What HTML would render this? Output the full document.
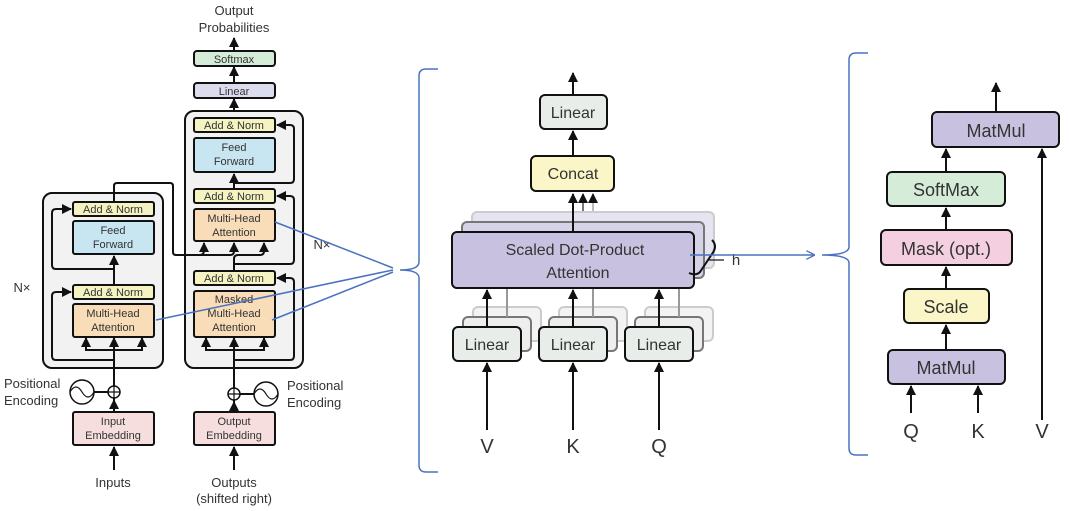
<!DOCTYPE html>
<html><head><meta charset="utf-8"><style>
html,body{margin:0;padding:0;background:#fff;width:1069px;height:511px;overflow:hidden}
svg{display:block}
text{font-family:"Liberation Sans",sans-serif;fill:#333;text-anchor:middle}
.b{stroke:#111;stroke-width:2}
.s{fill:none;stroke:#111;stroke-width:2}
.t{font-size:11px}
.bl{fill:none;stroke:#4a72c0;stroke-width:1.5}
</style></head><body>
<svg width="1069" height="511" viewBox="0 0 1069 511">
<defs>
<marker id="a" viewBox="0 0 10 10" refX="9" refY="5" markerWidth="5" markerHeight="5" orient="auto"><path d="M0,0L10,5L0,10z" fill="#111"/></marker>
<marker id="ab" viewBox="0 0 10 10" refX="9" refY="5" markerWidth="6" markerHeight="6" orient="auto"><path d="M0,0L10,5L0,10" fill="none" stroke="#4a72c0" stroke-width="1.5"/></marker>
</defs>
<!-- LEFT: Transformer -->
<text x="234" y="15" font-size="13">Output</text>
<text x="234" y="32" font-size="13">Probabilities</text>
<line class="s" x1="234" y1="51" x2="234" y2="38" marker-end="url(#a)"/>
<rect class="b" x="194" y="51" width="81" height="15" rx="3" fill="#d4ecd8"/>
<text class="t" x="234" y="63">Softmax</text>
<line class="s" x1="234" y1="83" x2="234" y2="67" marker-end="url(#a)"/>
<rect class="b" x="194" y="83" width="81" height="15" rx="3" fill="#dcdcef"/>
<text class="t" x="234" y="95">Linear</text>
<line class="s" x1="234" y1="118" x2="234" y2="99" marker-end="url(#a)"/>
<!-- encoder -->
<rect x="43" y="193" width="120" height="175" rx="9" fill="#f2f2f2" stroke="#111" stroke-width="2"/>
<!-- decoder -->
<rect x="185" y="111" width="118" height="257" rx="9" fill="#f2f2f2" stroke="#111" stroke-width="2"/>
<!-- encoder internals -->
<path class="s" d="M114,405 V304"/>
<path class="s" d="M114,360 H56 Q52,360 52,356 V296 Q52,292 56,292 H71" marker-end="url(#a)"/>
<path class="s" d="M114,269 H56 Q52,269 52,265 V213 Q52,209 56,209 H71" marker-end="url(#a)"/>
<path class="s" d="M86,339 V350 H142 V339"/>
<line class="s" x1="86" y1="350" x2="86" y2="338" marker-end="url(#a)"/>
<line class="s" x1="142" y1="350" x2="142" y2="338" marker-end="url(#a)"/>
<line class="s" x1="114" y1="350" x2="114" y2="338" marker-end="url(#a)"/>
<line class="s" x1="114" y1="285" x2="114" y2="256" marker-end="url(#a)"/>
<path class="s" d="M114,202 V186 Q114,183 117,183 H170 Q173,183 173,186 V252 Q173,255 176,255 H200 Q204,255 204,250 V243" marker-end="url(#a)"/>
<rect class="b" x="73" y="202" width="81" height="14" rx="2" fill="#f4f3c1"/>
<text class="t" x="113" y="213">Add &amp; Norm</text>
<rect class="b" x="73" y="221" width="81" height="33" rx="2" fill="#c8e6f2"/>
<text class="t" x="113" y="234">Feed</text><text class="t" x="113" y="248">Forward</text>
<rect class="b" x="73" y="285" width="81" height="14" rx="2" fill="#f4f3c1"/>
<text class="t" x="113" y="296">Add &amp; Norm</text>
<rect class="b" x="73" y="304" width="81" height="33" rx="2" fill="#f9ddb8"/>
<text class="t" x="113" y="317">Multi-Head</text><text class="t" x="113" y="331">Attention</text>
<!-- decoder internals -->
<path class="s" d="M234,405 V291"/>
<path class="s" d="M234,360 H290 Q294,360 294,356 V282 Q294,278 290,278 H277" marker-end="url(#a)"/>
<path class="s" d="M234,264 H290 Q294,264 294,260 V200 Q294,196 290,196 H277" marker-end="url(#a)"/>
<path class="s" d="M234,183 H290 Q294,183 294,179 V129 Q294,125 290,125 H277" marker-end="url(#a)"/>
<path class="s" d="M206,339 V350 H264 V339"/>
<line class="s" x1="206" y1="350" x2="206" y2="338" marker-end="url(#a)"/>
<line class="s" x1="264" y1="350" x2="264" y2="338" marker-end="url(#a)"/>
<line class="s" x1="234" y1="350" x2="234" y2="338" marker-end="url(#a)"/>
<path class="s" d="M234,271 V259 Q234,255 238,255 H260 Q264,255 264,251 V243" marker-end="url(#a)"/>
<path class="s" d="M200,255 H230 Q234,255 234,251 V243" marker-end="url(#a)"/>
<line class="s" x1="234" y1="189" x2="234" y2="174" marker-end="url(#a)"/>
<rect class="b" x="194" y="118" width="81" height="14" rx="2" fill="#f4f3c1"/>
<text class="t" x="234" y="129">Add &amp; Norm</text>
<rect class="b" x="194" y="138" width="81" height="34" rx="2" fill="#c8e6f2"/>
<text class="t" x="234" y="151">Feed</text><text class="t" x="234" y="165">Forward</text>
<rect class="b" x="194" y="189" width="81" height="14" rx="2" fill="#f4f3c1"/>
<text class="t" x="234" y="200">Add &amp; Norm</text>
<rect class="b" x="194" y="209" width="81" height="32" rx="2" fill="#f9ddb8"/>
<text class="t" x="234" y="222">Multi-Head</text><text class="t" x="234" y="236">Attention</text>
<rect class="b" x="194" y="271" width="81" height="14" rx="2" fill="#f4f3c1"/>
<text class="t" x="234" y="282">Add &amp; Norm</text>
<rect class="b" x="194" y="291" width="81" height="46" rx="2" fill="#f9ddb8"/>
<text class="t" x="234" y="303">Masked</text><text class="t" x="234" y="317">Multi-Head</text><text class="t" x="234" y="331">Attention</text>
<!-- embeddings -->
<rect class="b" x="73" y="412" width="81" height="33" rx="2" fill="#f6dede"/>
<text class="t" x="113" y="425">Input</text><text class="t" x="113" y="439">Embedding</text>
<rect class="b" x="194" y="412" width="81" height="33" rx="2" fill="#f6dede"/>
<text class="t" x="234" y="425">Output</text><text class="t" x="234" y="439">Embedding</text>
<line class="s" x1="114" y1="470" x2="114" y2="447" marker-end="url(#a)"/>
<line class="s" x1="234" y1="470" x2="234" y2="447" marker-end="url(#a)"/>
<line class="s" x1="114" y1="412" x2="114" y2="400" marker-end="url(#a)"/>
<line class="s" x1="234" y1="412" x2="234" y2="402" marker-end="url(#a)"/>
<circle cx="114" cy="392" r="6" fill="#fff" stroke="#111" stroke-width="1.5"/>
<path d="M108,392H120M114,386V398" stroke="#111" stroke-width="1.2"/>
<circle cx="82" cy="392" r="12" fill="#fff" stroke="#111" stroke-width="1.5"/>
<path d="M70,392 q6,-10 12,0 t12,0" fill="none" stroke="#111" stroke-width="1.2"/>
<line class="s" x1="94" y1="392" x2="108" y2="392"/>
<circle cx="234" cy="394" r="6" fill="#fff" stroke="#111" stroke-width="1.5"/>
<path d="M228,394H240M234,388V400" stroke="#111" stroke-width="1.2"/>
<circle cx="266" cy="394" r="12" fill="#fff" stroke="#111" stroke-width="1.5"/>
<path d="M254,394 q6,-10 12,0 t12,0" fill="none" stroke="#111" stroke-width="1.2"/>
<line class="s" x1="240" y1="394" x2="254" y2="394"/>
<text x="4" y="388" font-size="13" style="text-anchor:start">Positional</text>
<text x="4" y="405" font-size="13" style="text-anchor:start">Encoding</text>
<text x="287" y="390" font-size="13" style="text-anchor:start">Positional</text>
<text x="287" y="407" font-size="13" style="text-anchor:start">Encoding</text>
<text x="113" y="487" font-size="13">Inputs</text>
<text x="234" y="487" font-size="13">Outputs</text>
<text x="234" y="503" font-size="13">(shifted right)</text>
<text x="22" y="292" font-size="13">N×</text>
<text x="322" y="249" font-size="13">N×</text>
<!-- blue connectors -->
<line class="bl" x1="275" y1="222" x2="393" y2="268"/>
<line class="bl" x1="156" y1="320" x2="393" y2="270"/>
<line class="bl" x1="272" y1="320" x2="393" y2="272"/>
<path class="bl" d="M438,69 H426 Q419,69 419,76 V262 Q419,270 400,270 Q419,270 419,278 V465 Q419,472 426,472 H438"/>
<!-- MIDDLE -->
<line class="s" x1="573" y1="95" x2="573" y2="73" marker-end="url(#a)"/>
<rect class="b" x="540" y="95" width="67" height="34" rx="5" fill="#e8ede9"/>
<text x="573" y="118" font-size="16">Linear</text>
<line class="s" x1="573" y1="156" x2="573" y2="131" marker-end="url(#a)"/>
<rect class="b" x="531" y="156" width="83" height="35" rx="5" fill="#fbf6c8"/>
<text x="573" y="179" font-size="16">Concat</text>
<line x1="593" y1="212" x2="593" y2="194" stroke="#bbb" stroke-width="2" marker-end="url(#a)"/>
<line x1="583" y1="222" x2="583" y2="194" stroke="#777" stroke-width="2" marker-end="url(#a)"/>
<rect x="472" y="212" width="242" height="56" rx="5" fill="#e6e4f0" stroke="#ccc" stroke-width="2"/>
<rect x="462" y="222" width="242" height="56" rx="5" fill="#d6d2e8" stroke="#777" stroke-width="2"/>
<line class="s" x1="573" y1="232" x2="573" y2="194" marker-end="url(#a)"/>
<rect class="b" x="452" y="232" width="242" height="56" rx="5" fill="#c8c2e0"/>
<text x="575" y="255" font-size="16">Scaled Dot-Product</text>
<text x="578" y="278" font-size="16">Attention</text>
<path class="s" d="M712,240 Q718,246 712,254 L700,272 Q696,276 689,273"/>
<line x1="708" y1="260" x2="724" y2="260" stroke="#111" stroke-width="1.2"/>
<text x="736" y="265" font-size="15">h</text>
<line class="bl" x1="690" y1="255" x2="814" y2="255" marker-end="url(#ab)"/>
<!-- linears -->
<g>
<rect x="473" y="307" width="68" height="34" rx="5" fill="#f3f3f3" stroke="#ccc" stroke-width="2"/>
<rect x="463" y="317" width="68" height="34" rx="5" fill="#eee" stroke="#777" stroke-width="2"/>
<rect x="559" y="307" width="68" height="34" rx="5" fill="#f3f3f3" stroke="#ccc" stroke-width="2"/>
<rect x="549" y="317" width="68" height="34" rx="5" fill="#eee" stroke="#777" stroke-width="2"/>
<rect x="645" y="307" width="68" height="34" rx="5" fill="#f3f3f3" stroke="#ccc" stroke-width="2"/>
<rect x="635" y="317" width="68" height="34" rx="5" fill="#eee" stroke="#777" stroke-width="2"/>
</g>
<line x1="507" y1="317" x2="507" y2="289" stroke="#999" stroke-width="2"/>
<line x1="593" y1="317" x2="593" y2="289" stroke="#999" stroke-width="2"/>
<line x1="679" y1="317" x2="679" y2="289" stroke="#999" stroke-width="2"/>
<line class="s" x1="487" y1="327" x2="487" y2="290" marker-end="url(#a)"/>
<line class="s" x1="573" y1="327" x2="573" y2="290" marker-end="url(#a)"/>
<line class="s" x1="659" y1="327" x2="659" y2="290" marker-end="url(#a)"/>
<rect class="b" x="453" y="327" width="68" height="34" rx="5" fill="#e8ede9"/>
<text x="487" y="350" font-size="16">Linear</text>
<rect class="b" x="539" y="327" width="68" height="34" rx="5" fill="#e8ede9"/>
<text x="573" y="350" font-size="16">Linear</text>
<rect class="b" x="625" y="327" width="68" height="34" rx="5" fill="#e8ede9"/>
<text x="659" y="350" font-size="16">Linear</text>
<line class="s" x1="487" y1="430" x2="487" y2="363" marker-end="url(#a)"/>
<line class="s" x1="573" y1="430" x2="573" y2="363" marker-end="url(#a)"/>
<line class="s" x1="659" y1="430" x2="659" y2="363" marker-end="url(#a)"/>
<text x="487" y="453" font-size="20">V</text>
<text x="573" y="453" font-size="20">K</text>
<text x="659" y="453" font-size="20">Q</text>
<path class="bl" d="M868,53 H856 Q849,53 849,60 V247 Q849,255 822,255 Q849,255 849,263 V448 Q849,455 856,455 H868"/>
<!-- RIGHT -->
<line class="s" x1="996" y1="112" x2="996" y2="83" marker-end="url(#a)"/>
<rect class="b" x="932" y="112" width="127" height="35" rx="5" fill="#c8c2e0"/>
<text x="996" y="137" font-size="18">MatMul</text>
<line class="s" x1="946" y1="172" x2="946" y2="149" marker-end="url(#a)"/>
<rect class="b" x="887" y="172" width="118" height="34" rx="5" fill="#d4ecd8"/>
<text x="946" y="196" font-size="18">SoftMax</text>
<line class="s" x1="946" y1="230" x2="946" y2="208" marker-end="url(#a)"/>
<rect class="b" x="881" y="230" width="131" height="35" rx="5" fill="#f4cfe0"/>
<text x="946" y="255" font-size="18">Mask (opt.)</text>
<line class="s" x1="946" y1="289" x2="946" y2="267" marker-end="url(#a)"/>
<rect class="b" x="904" y="289" width="85" height="34" rx="5" fill="#fbf6c8"/>
<text x="946" y="313" font-size="18">Scale</text>
<line class="s" x1="946" y1="350" x2="946" y2="325" marker-end="url(#a)"/>
<rect class="b" x="888" y="350" width="117" height="34" rx="5" fill="#c8c2e0"/>
<text x="946" y="374" font-size="18">MatMul</text>
<line class="s" x1="911" y1="413" x2="911" y2="386" marker-end="url(#a)"/>
<line class="s" x1="978" y1="413" x2="978" y2="386" marker-end="url(#a)"/>
<line class="s" x1="1042" y1="420" x2="1042" y2="149" marker-end="url(#a)"/>
<text x="911" y="438" font-size="20">Q</text>
<text x="978" y="438" font-size="20">K</text>
<text x="1042" y="438" font-size="20">V</text>
</svg>
</body></html>
